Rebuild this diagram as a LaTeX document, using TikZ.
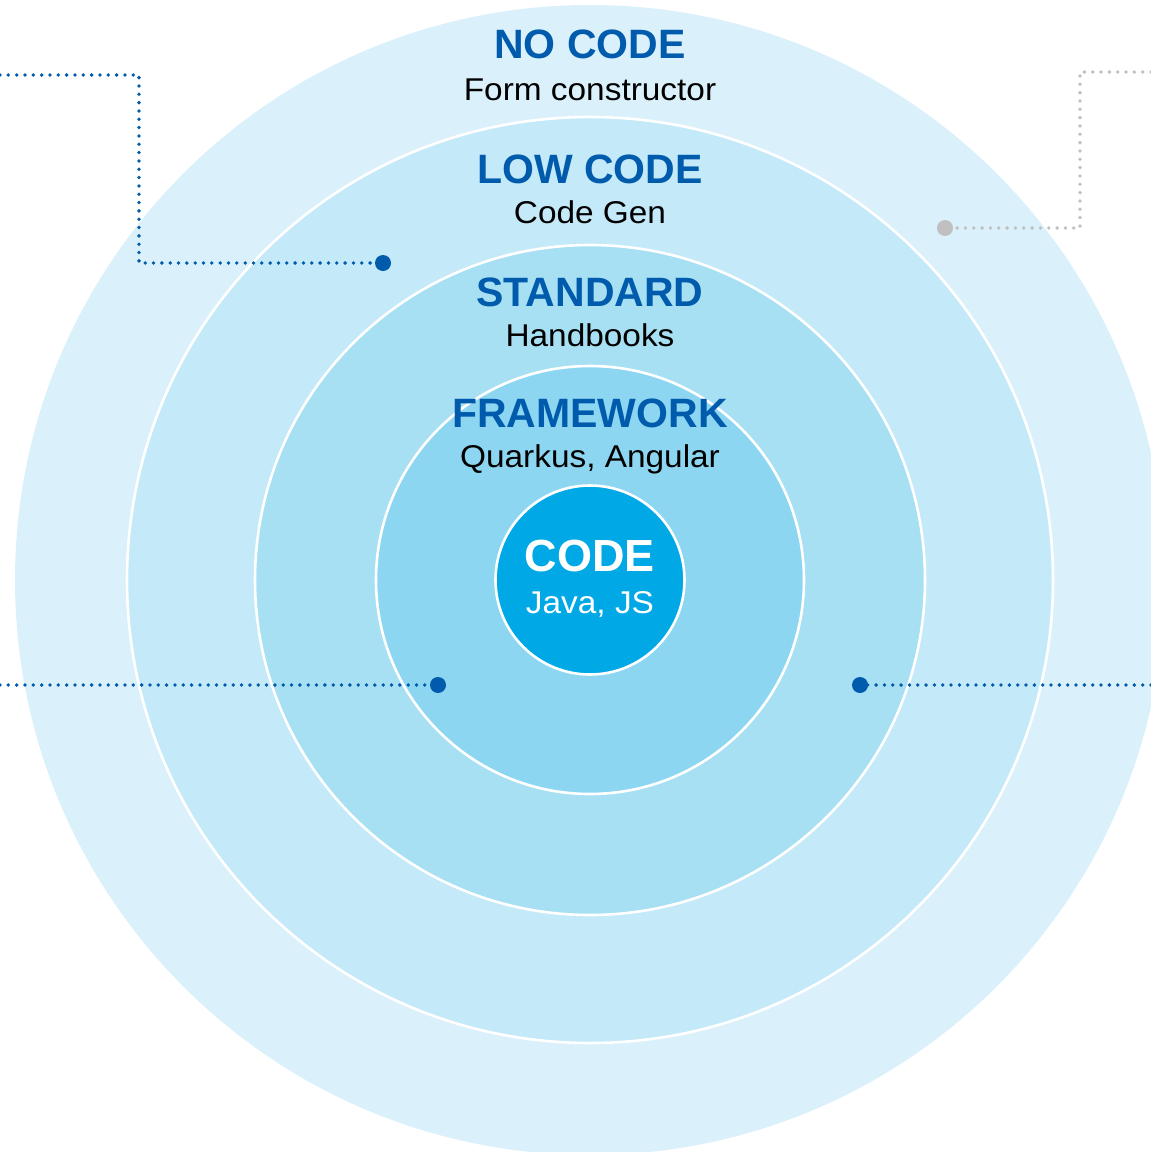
\documentclass[tikz,border=0pt]{standalone}
\usepackage{fontspec}
\setmainfont{Liberation Sans}
\newfontfamily\subfont[FakeStretch=1.06]{Liberation Sans}
\definecolor{ringA}{HTML}{DAF1FB}
\definecolor{ringB}{HTML}{C4E9F8}
\definecolor{ringC}{HTML}{A7DFF3}
\definecolor{ringD}{HTML}{8DD6F1}
\definecolor{coreC}{HTML}{00A8E6}
\definecolor{tblue}{HTML}{005BAC}
\definecolor{lgray}{HTML}{C0C0C0}
\begin{document}
\begin{tikzpicture}[x=1pt,y=-1pt,
  ring/.style={circle, draw=white, line width=2.6pt, inner sep=0pt, minimum size=#1},
  title/.style={anchor=base, text=tblue, font=\fontsize{41}{45}\selectfont\bfseries},
  sub/.style={anchor=base, text=black, font=\subfont\fontsize{31.5}{35}\selectfont},
  dotline/.style={line width=3.8pt, line cap=round, dash pattern=on 0pt off 8.33pt},
  enddot/.style={circle, fill=#1, inner sep=0pt, minimum size=16pt}]
\useasboundingbox (0,0) rectangle (1151,1152);
% rings
\node[circle, fill=ringA, inner sep=0pt, minimum size=1150pt] (nocode) at (590,580) {};
\node[ring=926pt, fill=ringB] (lowcode) at (590,580) {};
\node[ring=670pt, fill=ringC] (standard) at (590,580) {};
\node[ring=428pt, fill=ringD] (framework) at (590,580) {};
\node[ring=189pt, fill=coreC] (code) at (590,580) {};
% labels
\node[title] (t1) at (590,58) {NO CODE};
\node[sub] (s1) at (590,100) {Form constructor};
\node[title] (t2) at (590,183) {LOW CODE};
\node[sub] (s2) at (590,223) {Code Gen};
\node[title] (t3) at (590,306) {STANDARD};
\node[sub] (s3) at (590,346) {Handbooks};
\node[title] (t4) at (590,427) {FRAMEWORK};
\node[sub] (s4) at (590,467) {Quarkus, Angular};
\node[title, text=white, font=\fontsize{45}{49}\selectfont\bfseries] (t5) at (590,571) {CODE};
\node[sub, text=white] (s5) at (590,613) {Java, JS};
% connector end points
\coordinate (aS) at (0,75);
\coordinate (bS) at (1151,72);
\coordinate (cS) at (0,685);
\coordinate (dS) at (1151,685);
\node[enddot=tblue] (aD) at (383,263) {};
\node[enddot=lgray] (bD) at (945,228) {};
\node[enddot=tblue] (cD) at (438,685) {};
\node[enddot=tblue] (dD) at (860,685) {};
% connectors
\draw[dotline, tblue] (aS) -- (139,75) -- (139,263) -- (aD.center);
\draw[dotline, lgray] (bS) -- (1080,72) -- (1080,228) -- (bD.center);
\draw[dotline, tblue] (cS) -- (cD.center);
\draw[dotline, tblue] (dS) -- (dD.center);
\end{tikzpicture}
\end{document}
